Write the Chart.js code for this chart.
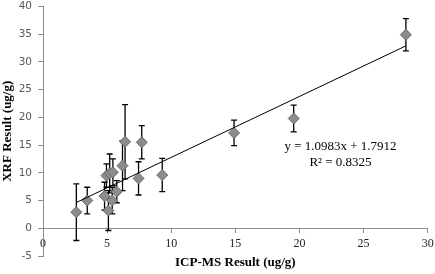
<!DOCTYPE html>
<html lang="en">
<head>
    <meta charset="UTF-8">
    <title>XRF vs ICP-MS</title>
    <style>
        body {
            margin: 0;
            background-color: white;
        }
        #chartBox {
            width: 435px;
            height: 274px;
        }
    </style>
</head>
<body>
    <div id="chartBox"><canvas id="xrfChart"></canvas></div>
    <script src="https://cdn.jsdelivr.net/npm/chart.js"></script>
    <script>
        // ICP-MS result (x), XRF result (y) and XRF error (+/-), ug/g
        const icpValues = [2.6, 3.45, 4.8, 4.95, 5.1, 5.2, 5.45, 5.4, 5.75, 6.2, 6.4, 7.45, 7.7, 9.3, 14.9, 19.55, 28.3];
        const xrfValues = [2.9, 5.0, 5.8, 9.5, 3.2, 9.9, 10.1, 5.0, 6.6, 11.3, 15.6, 9.0, 15.5, 9.6, 17.2, 19.8, 34.9];
        const xrfErrors = [5.1, 2.4, 2.5, 2.1, 3.6, 3.5, 2.4, 2.4, 2.0, 4.5, 6.7, 3.0, 3.0, 3.0, 2.3, 2.4, 2.9];

        // linear trendline ends
        const trendX = [2.6, 28.3];
        const trendY = [4.65, 32.9];

        const equationLines = ['y = 1.0983x + 1.7912', 'R\u00B2 = 0.8325'];
        const equationAt = [23.2, 14.7];

        const xTitle = 'ICP-MS Result (ug/g)';
        const yTitle = 'XRF Result (ug/g)';

        const points = icpValues.map((x, i) => ({ x: x, y: xrfValues[i] }));
        const trend = trendX.map((x, i) => ({ x: x, y: trendY[i] }));

        // vertical error bars with caps, drawn behind the markers
        const errorBars = {
            id: 'errorBars',
            beforeDatasetsDraw(chart) {
                const ctx = chart.ctx;
                const xs = chart.scales.x;
                const ys = chart.scales.y;
                ctx.save();
                ctx.strokeStyle = '#000';
                ctx.lineWidth = 1.3;
                icpValues.forEach((x, i) => {
                    const px = xs.getPixelForValue(x);
                    const top = ys.getPixelForValue(xrfValues[i] + xrfErrors[i]);
                    const bot = ys.getPixelForValue(xrfValues[i] - xrfErrors[i]);
                    ctx.beginPath();
                    ctx.moveTo(px, top);
                    ctx.lineTo(px, bot);
                    ctx.moveTo(px - 3, top);
                    ctx.lineTo(px + 3, top);
                    ctx.moveTo(px - 3, bot);
                    ctx.lineTo(px + 3, bot);
                    ctx.stroke();
                });
                ctx.restore();
            }
        };

        const equationText = {
            id: 'equationText',
            afterDatasetsDraw(chart) {
                const ctx = chart.ctx;
                const px = chart.scales.x.getPixelForValue(equationAt[0]);
                const py = chart.scales.y.getPixelForValue(equationAt[1]);
                ctx.save();
                ctx.fillStyle = '#000';
                ctx.font = '13px "Liberation Serif"';
                ctx.textAlign = 'center';
                ctx.textBaseline = 'middle';
                equationLines.forEach((line, i) => {
                    ctx.fillText(line, px, py + i * 16);
                });
                ctx.restore();
            }
        };

        new Chart(document.getElementById('xrfChart'), {
            type: 'scatter',
            data: {
                datasets: [
                    {
                        label: 'Trendline',
                        data: trend,
                        showLine: true,
                        borderColor: '#000',
                        borderWidth: 1,
                        pointRadius: 0,
                        order: 0
                    },
                    {
                        label: 'Samples',
                        data: points,
                        pointStyle: 'rectRot',
                        pointRadius: 5.5,
                        backgroundColor: '#8c8c8c',
                        borderColor: '#6a6a6a',
                        borderWidth: 1,
                        order: 1
                    }
                ]
            },
            options: {
                responsive: true,
                maintainAspectRatio: false,
                animation: false,
                layout: {
                    // the x axis sits at y = 0, so its box takes no room here
                    padding: { top: 5, right: 7.3, bottom: 18, left: 0 }
                },
                plugins: {
                    legend: { display: false },
                    tooltip: { enabled: false }
                },
                scales: {
                    x: {
                        type: 'linear',
                        position: { y: 0 },
                        min: 0,
                        max: 30,
                        afterFit: scale => {
                            scale.height = 42;
                            scale.paddingLeft = 0;
                            scale.paddingRight = 0;
                        },
                        ticks: {
                            stepSize: 5,
                            padding: 4,
                            color: '#222',
                            font: { family: 'Liberation Serif', size: 12 }
                        },
                        grid: {
                            drawOnChartArea: false,
                            tickLength: 4,
                            color: '#8c8c8c'
                        },
                        border: { color: '#8c8c8c' },
                        title: {
                            display: true,
                            text: xTitle,
                            color: '#000',
                            padding: { top: 0, bottom: 0 },
                            font: { family: 'Liberation Serif', size: 13, weight: 'bold' }
                        }
                    },
                    y: {
                        min: -5,
                        max: 40,
                        afterFit: scale => {
                            scale.width = 43;
                            scale.paddingTop = 0;
                            scale.paddingBottom = 0;
                        },
                        ticks: {
                            stepSize: 5,
                            padding: 6,
                            color: '#595959',
                            font: { family: 'DejaVu Sans', size: 10.5, lineHeight: 1 }
                        },
                        grid: {
                            drawOnChartArea: false,
                            tickLength: 5,
                            color: '#8c8c8c'
                        },
                        border: { color: '#8c8c8c' },
                        title: {
                            display: true,
                            text: yTitle,
                            color: '#000',
                            padding: { top: 0, bottom: 0 },
                            font: { family: 'Liberation Serif', size: 13, weight: 'bold' }
                        }
                    }
                }
            },
            plugins: [errorBars, equationText]
        });
    </script>
</body>
</html>
